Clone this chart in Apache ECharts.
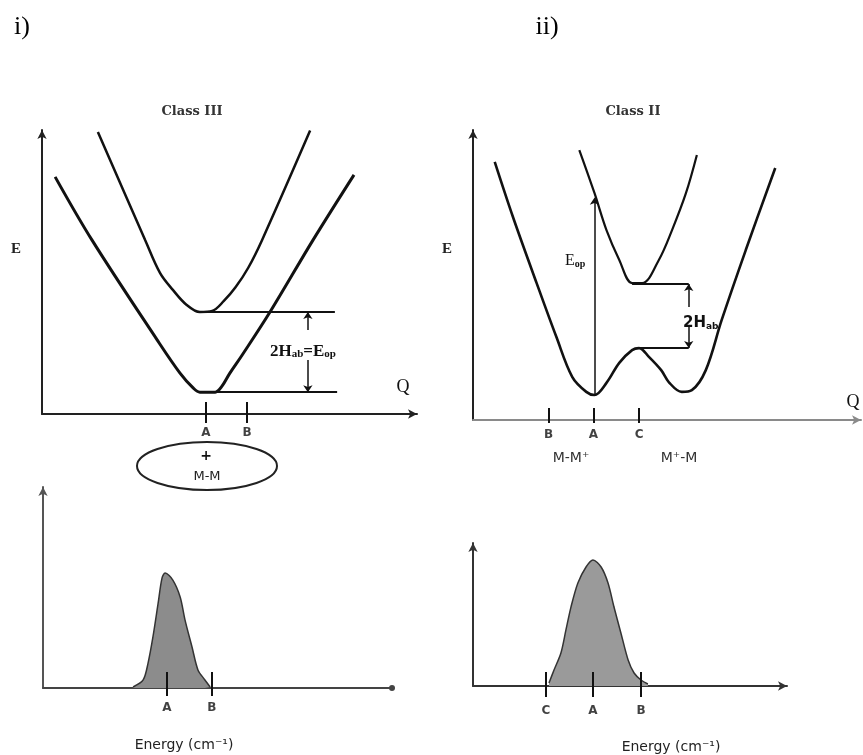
<!DOCTYPE html>
<html><head><meta charset="utf-8">
<script src="https://cdn.jsdelivr.net/npm/echarts@6/dist/echarts.min.js"></script>
<style>html,body{margin:0;padding:0;background:#fff}#c{width:863px;height:755px}</style>
</head><body><div id="c"></div>
<script>
// ---------- Panel i (Class III): potential energy surfaces, axis units 0-100 ----------
const classIIIGround = [[3.5,83.5],[13.3,61.3],[30.7,26.1],[36.8,14.4],[40.3,9.2],[42.1,7.7],[46.2,7.7],[48.0,9.8],[50.1,14.4],[53.3,20.6],[60.8,35.9],[72.3,61.3],[83.2,84.2]];
const classIIIExcited = [[14.9,99.3],[27.5,61.3],[31.5,49.6],[34.9,43.7],[38.5,38.5],[42.1,35.9],[45.4,36.3],[48.5,39.8],[51.6,44.6],[55.0,51.5],[58.7,61.3],[71.5,99.8]];
const classIIIGuides = [[[42.1,35.9],[78.1,35.9]], [[42.1,7.7],[78.7,7.7]]];
const classIIIArrows = [[[70.9,29.6],[70.9,35.9]], [[70.9,19.0],[70.9,7.7]]];
const classIIITickPos = [43.7, 54.7];
const classIIITickNames = ['A', 'B'];

// ---------- Panel ii (Class II): double well ----------
const classIIGround = [[5.6,89.0],[10.3,70.0],[16.4,47.2],[21.5,28.6],[25.6,14.8],[29.2,9.7],[31.3,8.6],[34.4,12.8],[37.7,19.7],[41.0,24.1],[42.8,24.8],[45.4,21.7],[48.5,17.2],[50.5,13.0],[53.8,9.7],[56.4,10.3],[60.0,17.2],[64.1,34.5],[70.3,58.6],[77.9,86.9]];
const classIIExcited = [[27.4,93.1],[31.3,78.3],[34.4,65.5],[37.7,55.2],[41.0,47.2],[43.6,47.2],[47.9,55.2],[51.3,65.5],[54.9,78.3],[57.7,91.4]];
const classIIGuides = [[[41.0,46.9],[55.6,46.9]], [[42.8,24.8],[55.6,24.8]]];
const classIIArrows = [[[55.6,39.0],[55.6,46.9]], [[55.6,32.1],[55.6,24.8]], [[31.3,8.6],[31.3,76.6]]];
const classIITickPos = [19.5, 31.0, 42.8];
const classIITickNames = ['B', 'A', 'C'];

// ---------- Lower spectra ----------
const bandIII = [[25.8,0.5],[28.7,4.0],[30.1,12.4],[31.5,25.4],[33.0,42.3],[34.1,54.7],[35.0,57.2],[37.2,53.7],[39.3,45.3],[40.7,33.8],[42.7,20.4],[44.4,9.0],[46.4,4.0],[47.9,0.5]];
const bandIIITickPos = [35.5, 48.4];
const bandIIITickNames = ['A', 'B'];
const bandII = [[24.2,2.1],[25.8,11.2],[28.0,23.1],[29.6,39.2],[31.2,55.2],[33.4,72.0],[36.0,83.2],[38.2,88.1],[40.8,83.2],[43.0,72.0],[44.9,55.2],[47.1,37.1],[49.4,18.2],[51.3,9.1],[53.5,4.2],[55.7,1.4]];
const bandIITickPos = [23.2, 38.2, 53.5];
const bandIITickNames = ['C', 'A', 'B'];

const SERIF = '"Liberation Serif","DejaVu Serif",serif';
const DSERIF = '"DejaVu Serif","Liberation Serif",serif';
const SANS = '"DejaVu Sans","Liberation Sans",sans-serif';

function axisPair(idx, xColor, yColor, xSym, xSymSize) {
  const base = {type:'value', min:0, max:100, gridIndex:idx, axisTick:{show:false}, axisLabel:{show:false}, splitLine:{show:false}};
  return {
    x: Object.assign({}, base, {axisLine:{show:true, onZero:false, symbol:['none', xSym], symbolSize:xSymSize, lineStyle:{color:xColor, width:2}}}),
    y: Object.assign({}, base, {axisLine:{show:true, onZero:false, symbol:['none','arrow'], symbolSize:[7,9], lineStyle:{color:yColor, width:2}}})
  };
}
const a0 = axisPair(0, '#222', '#222', 'arrow', [7,9]);
const a1 = axisPair(1, '#8a8a8a', '#222', 'arrow', [7,9]);
const a2 = axisPair(2, '#444', '#555', 'circle', [6,6]);
const a3 = axisPair(3, '#333', '#333', 'arrow', [7,9]);

function curve(idx, data, width) {
  return {type:'line', xAxisIndex:idx, yAxisIndex:idx, data:data, symbol:'none', smooth:0.35, clip:false,
    lineStyle:{color:'#111', width:width}, z:3};
}
function band(idx, data, fill) {
  return {type:'line', xAxisIndex:idx, yAxisIndex:idx, data:data, symbol:'none', smooth:0.3, clip:false,
    lineStyle:{color:'#333', width:1.5}, areaStyle:{color:fill, opacity:1}, z:3};
}
function segs(idx, list, arrow, width, color) {
  return {type:'lines', coordinateSystem:'cartesian2d', xAxisIndex:idx, yAxisIndex:idx, clip:false,
    symbol: arrow ? ['none','arrow'] : ['none','none'], symbolSize:7,
    lineStyle:{color:color || '#111', width:width, opacity:1, curveness:0},
    data:list.map(c => ({coords:c})), z:4};
}
function ticks(idx, pos, top, bot) {
  return segs(idx, pos.map(x => [[x, top],[x, bot]]), false, 2, '#111');
}
function tickLabels(idx, pos, names, off) {
  return {type:'scatter', xAxisIndex:idx, yAxisIndex:idx, clip:false, symbolSize:0, silent:true,
    data:pos.map((x,i) => ({value:[x,0], name:names[i]})),
    label:{show:true, position:'inside', offset:[0,off], formatter:p => p.name, color:'#111', fontFamily:SANS, fontSize:12, fontWeight:'bold'}, z:5};
}

const option = {
  animation:false,
  backgroundColor:'#fff',
  grid:[
    {left:42, top:130, width:375, height:284},
    {left:473, top:130, width:388, height:290},
    {left:43, top:487, width:349, height:201},
    {left:473, top:543, width:314, height:143}
  ],
  xAxis:[a0.x, a1.x, a2.x, a3.x],
  yAxis:[a0.y, a1.y, a2.y, a3.y],
  series:[
    curve(0, classIIIGround, 3),
    curve(0, classIIIExcited, 2.5),
    segs(0, classIIIGuides, false, 2),
    segs(0, classIIIArrows, true, 1.5),
    ticks(0, classIIITickPos, 4.2, -3.2),
    tickLabels(0, classIIITickPos, classIIITickNames, 19),
    curve(1, classIIGround, 2.6),
    curve(1, classIIExcited, 2.2),
    segs(1, classIIGuides, false, 2),
    segs(1, classIIArrows, true, 1.5),
    ticks(1, classIITickPos, 4.1, -1.0),
    tickLabels(1, classIITickPos, classIITickNames, 15),
    band(2, bandIII, '#8c8c8c'),
    ticks(2, bandIIITickPos, 8, -4),
    tickLabels(2, bandIIITickPos, bandIIITickNames, 20),
    band(3, bandII, '#9a9a9a'),
    ticks(3, bandIITickPos, 9.8, -7.7),
    tickLabels(3, bandIITickPos, bandIITickNames, 25)
  ],
  graphic:[
    {type:'text', x:22, y:27, style:{text:'i)', font:'26px '+SERIF, fill:'#000', textAlign:'center', textVerticalAlign:'middle'}},
    {type:'text', x:547, y:27, style:{text:'ii)', font:'26px '+SERIF, fill:'#000', textAlign:'center', textVerticalAlign:'middle'}},
    {type:'text', x:192, y:112, style:{text:'Class III', font:'bold 13px '+DSERIF, fill:'#333', textAlign:'center', textVerticalAlign:'middle'}},
    {type:'text', x:633, y:112, style:{text:'Class II', font:'bold 13px '+DSERIF, fill:'#333', textAlign:'center', textVerticalAlign:'middle'}},
    {type:'text', x:16, y:249, style:{text:'E', font:'bold 15px '+SERIF, fill:'#222', textAlign:'center', textVerticalAlign:'middle'}},
    {type:'text', x:447, y:249, style:{text:'E', font:'bold 15px '+SERIF, fill:'#222', textAlign:'center', textVerticalAlign:'middle'}},
    {type:'text', x:403, y:387, style:{text:'Q', font:'18px '+SERIF, fill:'#111', textAlign:'center', textVerticalAlign:'middle'}},
    {type:'text', x:853, y:402, style:{text:'Q', font:'18px '+SERIF, fill:'#111', textAlign:'center', textVerticalAlign:'middle'}},
    {type:'text', x:270, y:350, style:{text:'{a|2H}{s|ab}{a|=E}{s|op}', textAlign:'left', textVerticalAlign:'middle',
      rich:{a:{font:'bold 17px '+SERIF, fill:'#111', verticalAlign:'bottom', lineHeight:20}, s:{font:'bold 11px '+SERIF, fill:'#111', verticalAlign:'bottom', lineHeight:13}}}},
    {type:'text', x:565, y:260, style:{text:'{a|E}{s|op}', textAlign:'left', textVerticalAlign:'middle',
      rich:{a:{font:'16px '+SERIF, fill:'#111', verticalAlign:'bottom', lineHeight:18}, s:{font:'bold 10px '+SERIF, fill:'#111', verticalAlign:'bottom', lineHeight:12}}}},
    {type:'text', x:683, y:322, style:{text:'{a|2H}{s|ab}', textAlign:'left', textVerticalAlign:'middle',
      rich:{a:{font:'bold 15px '+SANS, fill:'#111', verticalAlign:'bottom', lineHeight:18}, s:{font:'bold 9px '+SANS, fill:'#111', verticalAlign:'bottom', lineHeight:11}}}},
    {type:'ellipse', shape:{cx:207, cy:466, rx:70, ry:24}, style:{fill:'#fff', stroke:'#222', lineWidth:2}},
    {type:'text', x:206, y:456, style:{text:'+', font:'bold 14px '+SANS, fill:'#111', textAlign:'center', textVerticalAlign:'middle'}},
    {type:'text', x:207, y:477, style:{text:'M-M', font:'13px '+SANS, fill:'#222', textAlign:'center', textVerticalAlign:'middle'}},
    {type:'text', x:571, y:458, style:{text:'M-M\u207A', font:'14px '+SANS, fill:'#333', textAlign:'center', textVerticalAlign:'middle'}},
    {type:'text', x:679, y:458, style:{text:'M\u207A-M', font:'14px '+SANS, fill:'#333', textAlign:'center', textVerticalAlign:'middle'}},
    {type:'text', x:184, y:745, style:{text:'Energy (cm\u207B\u00B9)', font:'14px '+SANS, fill:'#222', textAlign:'center', textVerticalAlign:'middle'}},
    {type:'text', x:671, y:747, style:{text:'Energy (cm\u207B\u00B9)', font:'14px '+SANS, fill:'#222', textAlign:'center', textVerticalAlign:'middle'}}
  ]
};
const chart = echarts.init(document.getElementById('c'), null, {renderer:'canvas'});
chart.setOption(option);
</script></body></html>
